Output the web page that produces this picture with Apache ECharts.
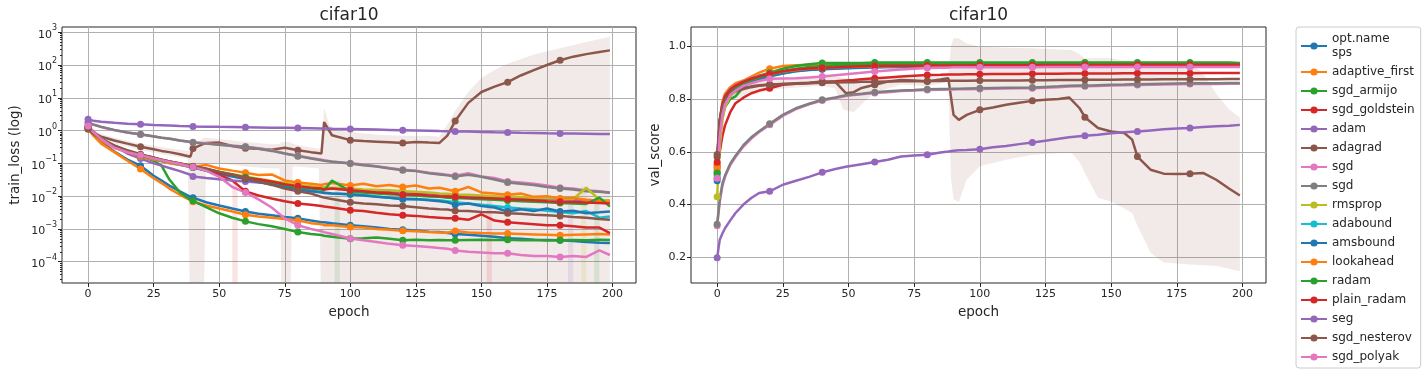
<!DOCTYPE html>
<html>
<head>
<meta charset="utf-8">
<script src="https://cdn.jsdelivr.net/npm/echarts@6/dist/echarts.min.js"></script>
<style>html,body{margin:0;padding:0;background:#fff}#chart{width:1428px;height:375px}</style>
</head>
<body>
<div id="chart"></div>
<script>
// ---------- categories / ticks ----------
const optNames = ['opt.name\nsps','adaptive_first','sgd_armijo','sgd_goldstein','adam','adagrad','sgd','sgd\u200b','rmsprop','adabound','amsbound','lookahead','radam','plain_radam','seg','sgd_nesterov','sgd_polyak'];
const optColors = ['#1f77b4','#ff7f0e','#2ca02c','#d62728','#9467bd','#8c564b','#e377c2','#7f7f7f','#bcbd22','#17becf','#1f77b4','#ff7f0e','#2ca02c','#d62728','#9467bd','#8c564b','#e377c2'];
const xTicks = [0,25,50,75,100,125,150,175,200];
const logTicks = [1e-4,1e-3,1e-2,1e-1,1,10,100,1000];
const valTicks = [0.2,0.4,0.6,0.8,1.0];

// ---------- train_loss (left panel) ----------
const leftEpochs = [0,2,5,10,15,20,25,28,31,35,39,40,45,50,55,60,65,70,75,80,85,89,90,93,100,105,110,115,120,125,130,134,137,140,145,150,155,160,165,170,175,180,185,190,195,199];
const trainSps = [1.2,0.8,0.45,0.23,0.13,0.085,0.042,0.03,0.021,0.014,0.0095,0.009,0.0065,0.0052,0.0042,0.0034,0.0029,0.0026,0.0023,0.0021,0.0018,0.0016,0.0016,0.0015,0.0013,0.0012,0.0011,0.001,0.00095,0.0009,0.00082,0.0008,0.00075,0.0007,0.00066,0.00062,0.00058,0.00052,0.0005,0.00047,0.00046,0.00045,0.00043,0.0004,0.00038,0.00037];
const trainAdaptiveFirst = [1.15,0.7,0.4,0.22,0.12,0.067,0.035,0.025,0.017,0.011,0.0075,0.0068,0.0052,0.0042,0.0034,0.0027,0.0024,0.0022,0.002,0.0018,0.0015,0.0014,0.0013,0.0013,0.00115,0.0011,0.001,0.00095,0.00088,0.00085,0.0008,0.00078,0.00076,0.00087,0.00078,0.00075,0.00073,0.00072,0.0007,0.00068,0.00066,0.00064,0.00066,0.00068,0.0007,0.00068];
const trainSgdArmijo = [1.25,0.88,0.55,0.34,0.24,0.17,0.12,0.085,0.032,0.013,0.0078,0.0072,0.0046,0.003,0.0022,0.0017,0.0014,0.0012,0.001,0.0008,0.0007,0.00065,0.00062,0.00058,0.0005,0.00052,0.00055,0.0005,0.00045,0.00047,0.00045,0.00046,0.00045,0.00045,0.00046,0.00047,0.00046,0.00047,0.00045,0.00046,0.00044,0.00045,0.00046,0.00045,0.00047,0.00046];
const trainSgdGoldstein = [1.25,0.88,0.55,0.34,0.24,0.175,0.145,0.125,0.11,0.095,0.08,0.078,0.06,0.045,0.03,0.014,0.0105,0.0085,0.007,0.006,0.0055,0.005,0.0048,0.0045,0.0037,0.0035,0.0031,0.0028,0.0026,0.0025,0.0023,0.0022,0.0021,0.0021,0.0019,0.0028,0.0018,0.0016,0.0015,0.0014,0.0013,0.0013,0.0012,0.0011,0.0011,0.00075];
const trainAdam = [1.4,0.95,0.58,0.33,0.2,0.14,0.1,0.085,0.072,0.058,0.045,0.04,0.036,0.033,0.03,0.028,0.026,0.024,0.022,0.02,0.019,0.018,0.018,0.017,0.016,0.015,0.0145,0.014,0.013,0.0125,0.012,0.0115,0.011,0.0105,0.01,0.0098,0.0095,0.009,0.0088,0.0085,0.0082,0.008,0.0078,0.0076,0.0074,0.0072];
const trainAdagrad = [1.1,0.85,0.65,0.5,0.4,0.32,0.27,0.24,0.22,0.19,0.16,0.285,0.42,0.43,0.34,0.29,0.28,0.26,0.3,0.25,0.22,0.2,1.8,0.72,0.51,0.48,0.46,0.44,0.42,0.45,0.43,0.42,0.7,1.95,7,15,22,30,48,70,100,140,180,215,250,280];
const trainSgd = [1.7,1.5,1.28,1.03,0.87,0.76,0.67,0.61,0.57,0.5,0.46,0.44,0.41,0.37,0.35,0.32,0.29,0.25,0.2,0.17,0.145,0.13,0.125,0.115,0.1,0.092,0.082,0.072,0.064,0.06,0.052,0.048,0.045,0.042,0.05,0.04,0.036,0.028,0.026,0.024,0.021,0.018,0.017,0.015,0.014,0.013];
const trainSgdGray = [1.75,1.55,1.3,1.05,0.88,0.77,0.66,0.6,0.56,0.5,0.45,0.435,0.4,0.37,0.34,0.32,0.28,0.24,0.2,0.166,0.14,0.125,0.12,0.112,0.099,0.088,0.08,0.07,0.062,0.058,0.05,0.046,0.043,0.04,0.045,0.039,0.032,0.026,0.024,0.022,0.019,0.017,0.016,0.014,0.0135,0.0126];
const trainRmsprop = [1.3,0.9,0.56,0.34,0.24,0.18,0.15,0.13,0.115,0.1,0.086,0.082,0.068,0.056,0.047,0.04,0.034,0.029,0.025,0.022,0.02,0.019,0.018,0.018,0.017,0.016,0.0155,0.015,0.014,0.0135,0.013,0.012,0.0118,0.0112,0.011,0.0105,0.01,0.0098,0.0094,0.009,0.0088,0.0085,0.0082,0.018,0.0078,0.0072];
const trainAdabound = [1.2,0.85,0.55,0.34,0.24,0.17,0.14,0.12,0.11,0.095,0.08,0.078,0.062,0.05,0.042,0.035,0.028,0.024,0.02,0.017,0.015,0.0135,0.013,0.012,0.0115,0.011,0.0098,0.009,0.0085,0.008,0.0078,0.0075,0.007,0.0065,0.006,0.0055,0.005,0.0045,0.0042,0.004,0.0036,0.0033,0.003,0.0035,0.0022,0.0024];
const trainAmsbound = [1.2,0.85,0.54,0.33,0.23,0.165,0.135,0.12,0.105,0.09,0.078,0.075,0.06,0.048,0.04,0.033,0.027,0.023,0.019,0.016,0.014,0.013,0.0125,0.012,0.0115,0.0105,0.0095,0.009,0.008,0.0082,0.0075,0.007,0.0065,0.0055,0.006,0.005,0.0045,0.0034,0.004,0.0035,0.0042,0.0034,0.0036,0.003,0.0032,0.0034];
const trainLookahead = [1.2,0.8,0.5,0.3,0.22,0.16,0.13,0.115,0.1,0.09,0.08,0.078,0.09,0.07,0.06,0.052,0.044,0.046,0.03,0.026,0.024,0.022,0.023,0.025,0.021,0.024,0.02,0.022,0.019,0.021,0.017,0.018,0.016,0.014,0.019,0.013,0.012,0.011,0.012,0.0095,0.01,0.0085,0.009,0.0078,0.0072,0.0067];
const trainRadam = [1.25,0.88,0.55,0.34,0.24,0.17,0.14,0.12,0.11,0.095,0.085,0.08,0.068,0.055,0.046,0.038,0.032,0.027,0.022,0.019,0.017,0.016,0.015,0.03,0.014,0.013,0.012,0.0115,0.011,0.0105,0.0098,0.0095,0.009,0.0088,0.0085,0.008,0.0077,0.0074,0.007,0.0068,0.0065,0.0062,0.006,0.0058,0.009,0.0048];
const trainPlainRadam = [1.3,0.9,0.55,0.34,0.24,0.18,0.15,0.13,0.115,0.1,0.085,0.08,0.065,0.05,0.045,0.035,0.032,0.028,0.023,0.02,0.018,0.017,0.016,0.017,0.015,0.014,0.013,0.0125,0.011,0.0115,0.0105,0.01,0.0098,0.0095,0.009,0.0088,0.0085,0.008,0.0078,0.0075,0.007,0.0068,0.0066,0.0064,0.0062,0.006];
const trainSeg = [2.2,2.0,1.85,1.72,1.62,1.55,1.48,1.45,1.42,1.38,1.35,1.34,1.32,1.3,1.29,1.27,1.25,1.23,1.21,1.19,1.17,1.15,1.15,1.13,1.11,1.09,1.07,1.05,1.03,1.01,0.99,0.97,0.96,0.94,0.93,0.91,0.89,0.88,0.86,0.85,0.83,0.82,0.81,0.8,0.79,0.78];
const trainSgdNesterov = [1.15,0.8,0.55,0.35,0.25,0.19,0.15,0.13,0.115,0.1,0.085,0.08,0.07,0.055,0.045,0.035,0.028,0.022,0.017,0.014,0.012,0.0095,0.009,0.0082,0.0065,0.006,0.0057,0.0052,0.005,0.0046,0.0042,0.004,0.0039,0.0036,0.0035,0.0033,0.0032,0.003,0.0029,0.0027,0.0026,0.0025,0.0023,0.0022,0.002,0.0019];
const trainSgdPolyak = [1.37,0.9,0.55,0.3,0.22,0.178,0.14,0.125,0.11,0.095,0.08,0.078,0.06,0.039,0.019,0.013,0.008,0.0045,0.0021,0.0013,0.001,0.00085,0.0008,0.0007,0.00051,0.00045,0.0004,0.00035,0.00032,0.0003,0.00028,0.00026,0.00025,0.00022,0.0002,0.00019,0.00018,0.00018,0.00016,0.00015,0.00015,0.00014,0.00015,0.00014,0.00022,0.00016];
// adagrad spread band (train)
const bandTrainEpochs = [0,5,10,20,30,38,39,44,45,50,60,70,73,74,77,78,80,88,89,90,92,95,100,110,120,130,134,137,140,145,150,155,160,170,180,190,199];
const bandTrainUpper = [1.3,0.8,0.6,0.4,0.3,0.24,0.25,0.6,0.6,0.55,0.45,0.38,0.4,0.45,0.45,0.4,0.36,0.28,0.3,4.9,1.5,1.0,0.9,0.75,0.7,0.7,0.65,1.5,4,15,40,70,110,210,325,500,730];
const bandTrainLower = [0.9,0.5,0.4,0.25,0.18,0.14,1e-6,1e-6,0.1,0.1,0.08,0.07,0.07,1e-6,1e-6,0.08,0.08,0.07,1e-6,1e-6,1e-6,1e-6,1e-6,1e-6,1e-6,1e-6,1e-6,1e-6,1e-6,1e-6,1e-6,1e-6,1e-6,1e-6,1e-6,1e-6,1e-6];
// faint single-epoch spread spikes (train)
const spikeStart = [55,94,152,183,188,193];
const spikeEnd = [57,96,154,185,190,195];
const spikeTop = [0.03,0.03,0.008,0.008,0.02,0.009];
const spikeOpt = [3,12,13,4,8,12];

// ---------- val_score (right panel) ----------
const rightEpochs = [0,1,2,3,5,7,10,13,16,20,25,30,35,40,45,49,52,55,60,65,70,75,80,85,88,90,92,95,100,105,110,115,120,125,130,134,138,140,145,150,155,158,160,165,170,175,180,185,190,195,199];
const valSps = [0.49,0.68,0.76,0.80,0.83,0.845,0.86,0.875,0.886,0.895,0.905,0.912,0.917,0.92,0.921,0.922,0.923,0.923,0.924,0.924,0.925,0.925,0.925,0.926,0.926,0.926,0.926,0.926,0.927,0.927,0.927,0.927,0.927,0.927,0.928,0.928,0.928,0.928,0.928,0.928,0.928,0.928,0.928,0.928,0.929,0.928,0.928,0.929,0.928,0.928,0.928];
const valAdaptiveFirst = [0.53,0.72,0.79,0.82,0.845,0.86,0.87,0.885,0.9,0.915,0.925,0.928,0.93,0.931,0.931,0.932,0.932,0.932,0.933,0.933,0.933,0.933,0.934,0.934,0.934,0.934,0.934,0.934,0.934,0.934,0.934,0.934,0.935,0.935,0.935,0.935,0.935,0.935,0.935,0.935,0.935,0.935,0.935,0.935,0.935,0.935,0.935,0.935,0.935,0.935,0.935];
const valSgdArmijo = [0.52,0.66,0.73,0.77,0.8,0.81,0.845,0.87,0.888,0.9,0.915,0.925,0.932,0.937,0.937,0.937,0.937,0.937,0.938,0.938,0.938,0.938,0.938,0.938,0.938,0.938,0.938,0.938,0.938,0.938,0.938,0.938,0.938,0.938,0.938,0.938,0.938,0.938,0.938,0.938,0.938,0.938,0.938,0.938,0.938,0.938,0.938,0.938,0.938,0.938,0.937];
const valSgdGoldstein = [0.55,0.6,0.66,0.7,0.75,0.784,0.805,0.822,0.832,0.841,0.854,0.858,0.861,0.864,0.867,0.87,0.872,0.875,0.879,0.882,0.885,0.888,0.891,0.892,0.893,0.893,0.893,0.894,0.894,0.895,0.895,0.895,0.896,0.896,0.896,0.897,0.897,0.897,0.897,0.897,0.898,0.898,0.898,0.898,0.898,0.898,0.898,0.899,0.899,0.899,0.899];
const valAdam = [0.54,0.72,0.78,0.81,0.838,0.852,0.866,0.878,0.887,0.895,0.904,0.91,0.914,0.916,0.918,0.919,0.92,0.92,0.921,0.921,0.921,0.922,0.922,0.922,0.922,0.922,0.922,0.922,0.923,0.923,0.923,0.923,0.923,0.923,0.923,0.923,0.923,0.924,0.924,0.924,0.924,0.924,0.924,0.924,0.924,0.924,0.924,0.924,0.924,0.924,0.924];
const valAdagrad = [0.58,0.7,0.76,0.79,0.815,0.828,0.838,0.845,0.85,0.854,0.857,0.86,0.862,0.866,0.865,0.822,0.826,0.842,0.854,0.866,0.872,0.87,0.866,0.874,0.879,0.74,0.721,0.74,0.759,0.768,0.778,0.786,0.793,0.797,0.8,0.806,0.765,0.731,0.69,0.677,0.671,0.646,0.582,0.532,0.517,0.516,0.517,0.52,0.494,0.46,0.434];
const valSgd = [0.32,0.41,0.47,0.505,0.55,0.58,0.62,0.65,0.675,0.702,0.736,0.762,0.78,0.794,0.804,0.811,0.815,0.818,0.823,0.826,0.83,0.832,0.834,0.835,0.836,0.836,0.837,0.837,0.838,0.839,0.84,0.841,0.841,0.843,0.845,0.847,0.848,0.848,0.849,0.851,0.852,0.853,0.853,0.854,0.855,0.856,0.857,0.857,0.857,0.858,0.858];
const valSgdGray = [0.325,0.42,0.48,0.51,0.555,0.585,0.625,0.655,0.678,0.706,0.74,0.765,0.782,0.797,0.806,0.814,0.817,0.82,0.826,0.829,0.832,0.834,0.837,0.838,0.838,0.839,0.839,0.84,0.841,0.842,0.843,0.843,0.844,0.846,0.848,0.85,0.851,0.85,0.852,0.854,0.855,0.856,0.856,0.857,0.858,0.859,0.86,0.86,0.86,0.861,0.861];
const valRmsprop = [0.43,0.62,0.72,0.77,0.81,0.83,0.85,0.866,0.878,0.89,0.9,0.908,0.913,0.917,0.919,0.92,0.921,0.922,0.923,0.923,0.924,0.924,0.924,0.925,0.925,0.925,0.925,0.925,0.925,0.926,0.926,0.926,0.926,0.926,0.926,0.926,0.926,0.927,0.927,0.927,0.927,0.927,0.927,0.927,0.927,0.927,0.927,0.927,0.927,0.927,0.927];
const valAdabound = [0.51,0.69,0.76,0.79,0.82,0.835,0.852,0.866,0.877,0.887,0.898,0.906,0.911,0.914,0.916,0.918,0.919,0.92,0.921,0.922,0.922,0.923,0.923,0.923,0.924,0.924,0.924,0.924,0.924,0.925,0.925,0.925,0.925,0.925,0.925,0.925,0.925,0.926,0.926,0.926,0.926,0.926,0.926,0.926,0.926,0.926,0.926,0.926,0.926,0.926,0.926];
const valAmsbound = [0.5,0.68,0.75,0.79,0.82,0.835,0.85,0.865,0.876,0.886,0.897,0.905,0.91,0.913,0.915,0.917,0.918,0.919,0.92,0.921,0.921,0.922,0.922,0.922,0.923,0.923,0.923,0.923,0.923,0.924,0.924,0.924,0.924,0.924,0.924,0.924,0.924,0.925,0.925,0.925,0.925,0.925,0.925,0.925,0.925,0.925,0.925,0.925,0.925,0.925,0.925];
const valLookahead = [0.54,0.7,0.77,0.805,0.83,0.848,0.862,0.874,0.884,0.893,0.903,0.91,0.915,0.918,0.92,0.921,0.922,0.923,0.924,0.924,0.925,0.925,0.925,0.926,0.926,0.926,0.926,0.927,0.927,0.927,0.928,0.928,0.928,0.928,0.929,0.929,0.929,0.929,0.929,0.929,0.93,0.93,0.93,0.93,0.93,0.93,0.93,0.93,0.93,0.93,0.93];
const valRadam = [0.52,0.7,0.77,0.8,0.83,0.845,0.86,0.872,0.882,0.892,0.905,0.915,0.921,0.925,0.928,0.93,0.931,0.932,0.933,0.933,0.933,0.934,0.934,0.934,0.934,0.934,0.934,0.934,0.934,0.935,0.935,0.935,0.935,0.935,0.935,0.935,0.935,0.935,0.935,0.935,0.935,0.935,0.935,0.935,0.935,0.935,0.935,0.935,0.935,0.935,0.935];
const valPlainRadam = [0.56,0.72,0.78,0.81,0.835,0.85,0.865,0.877,0.886,0.895,0.905,0.912,0.916,0.918,0.92,0.922,0.923,0.924,0.925,0.926,0.926,0.926,0.927,0.927,0.927,0.927,0.927,0.927,0.928,0.928,0.928,0.928,0.928,0.929,0.929,0.929,0.929,0.929,0.929,0.929,0.93,0.93,0.93,0.93,0.93,0.93,0.93,0.93,0.93,0.93,0.93];
const valSeg = [0.198,0.267,0.29,0.31,0.34,0.368,0.4,0.425,0.444,0.45,0.475,0.49,0.505,0.522,0.535,0.543,0.548,0.553,0.561,0.57,0.582,0.586,0.589,0.597,0.601,0.604,0.606,0.607,0.61,0.617,0.622,0.629,0.635,0.642,0.649,0.655,0.659,0.661,0.665,0.67,0.674,0.676,0.677,0.681,0.685,0.688,0.69,0.694,0.697,0.699,0.702];
const valSgdNesterov = [0.59,0.72,0.77,0.8,0.822,0.832,0.842,0.848,0.852,0.855,0.857,0.858,0.86,0.862,0.863,0.864,0.864,0.865,0.865,0.866,0.867,0.867,0.868,0.868,0.869,0.869,0.869,0.869,0.87,0.87,0.87,0.87,0.871,0.871,0.872,0.872,0.872,0.873,0.873,0.873,0.874,0.874,0.874,0.874,0.875,0.875,0.875,0.875,0.875,0.876,0.876];
const valSgdPolyak = [0.5,0.66,0.74,0.78,0.815,0.832,0.85,0.86,0.868,0.877,0.878,0.879,0.882,0.885,0.89,0.894,0.897,0.9,0.904,0.908,0.912,0.915,0.918,0.919,0.919,0.92,0.92,0.92,0.92,0.92,0.92,0.92,0.92,0.921,0.921,0.921,0.921,0.921,0.921,0.921,0.921,0.921,0.921,0.921,0.921,0.921,0.921,0.921,0.921,0.921,0.921];
// adagrad spread band (val)
const bandValEpochs = [0,1,2,3,5,7,10,15,20,30,40,45,48,52,56,60,70,80,88,89,90,92,95,100,110,120,130,135,138,140,145,150,155,158,160,165,170,180,185,190,195,199];
const bandValUpper = [0.6,0.72,0.78,0.81,0.835,0.85,0.86,0.868,0.872,0.876,0.882,0.885,0.88,0.875,0.878,0.88,0.888,0.884,0.892,1.0,1.03,1.03,1.01,0.998,0.994,0.992,0.988,0.986,0.97,0.955,0.955,0.955,0.945,0.942,0.942,0.94,0.938,0.935,0.9,0.82,0.76,0.73];
const bandValLower = [0.56,0.68,0.74,0.77,0.795,0.8,0.81,0.82,0.836,0.844,0.85,0.84,0.76,0.75,0.79,0.825,0.855,0.848,0.866,0.5,0.42,0.41,0.494,0.545,0.57,0.589,0.594,0.595,0.56,0.52,0.425,0.412,0.385,0.368,0.32,0.217,0.18,0.173,0.17,0.167,0.157,0.147];

const trainLoss = [trainSps,trainAdaptiveFirst,trainSgdArmijo,trainSgdGoldstein,trainAdam,trainAdagrad,trainSgd,trainSgdGray,trainRmsprop,trainAdabound,trainAmsbound,trainLookahead,trainRadam,trainPlainRadam,trainSeg,trainSgdNesterov,trainSgdPolyak];
const valScore = [valSps,valAdaptiveFirst,valSgdArmijo,valSgdGoldstein,valAdam,valAdagrad,valSgd,valSgdGray,valRmsprop,valAdabound,valAmsbound,valLookahead,valRadam,valPlainRadam,valSeg,valSgdNesterov,valSgdPolyak];

// sanity check
const bad = [];
trainLoss.forEach((a,i)=>{ if(a.length!==leftEpochs.length) bad.push('train'+i+':'+a.length); });
valScore.forEach((a,i)=>{ if(a.length!==rightEpochs.length) bad.push('val'+i+':'+a.length); });
if (bandTrainUpper.length!==bandTrainEpochs.length||bandTrainLower.length!==bandTrainEpochs.length) bad.push('bandTrain');
if (bandValUpper.length!==bandValEpochs.length||bandValLower.length!==bandValEpochs.length) bad.push('bandVal');
if (bad.length) throw new Error('length mismatch ' + bad.join(','));

// ---------- chart ----------
const FONT = 'DejaVu Sans';
const INK = '#262626';
const GRIDC = '#b0b0b0';
const L_MIN = 2.24e-5, L_MAX = 1445;
const minorTicks = [];
for (let e = -5; e <= 3; e++) for (let m = 2; m <= 9; m++) { const v = m * Math.pow(10, e); if (v > L_MIN && v < L_MAX) minorTicks.push(v); }

function hexA(hex, a) {
  const n = parseInt(hex.slice(1), 16);
  return 'rgba(' + (n >> 16) + ',' + ((n >> 8) & 255) + ',' + (n & 255) + ',' + a + ')';
}
function xAxisCfg(gi) {
  return {
    gridIndex: gi, type: 'value', min: -9.95, max: 208.95,
    axisLine: { show: false, onZero: false },
    axisTick: { show: true, inside: false, length: 4, lineStyle: { color: INK }, customValues: xTicks },
    axisLabel: { customValues: xTicks, color: INK, fontSize: 11, fontFamily: FONT, margin: 6 },
    splitLine: { show: true, lineStyle: { color: GRIDC, width: 1 } },
    name: 'epoch', nameLocation: 'middle', nameGap: 22,
    nameTextStyle: { color: INK, fontSize: 13.5, fontFamily: FONT }
  };
}
function lineSeries(i, xi, yi, epochs, vals) {
  return {
    type: 'line', name: optNames[i], xAxisIndex: xi, yAxisIndex: yi,
    data: epochs.map((e, k) => [e, vals[k]]),
    symbol: 'circle',
    symbolSize: v => (v[0] % 20 === 0 && v[0] < 200) ? 7 : 0,
    showSymbol: true, showAllSymbol: true,
    lineStyle: { width: 2.5, color: optColors[i] },
    itemStyle: { color: optColors[i] },
    emphasis: { disabled: true }, silent: true, z: 3
  };
}
function bandSeries(xi, yi, ep, up, lo, color) {
  return {
    type: 'custom', xAxisIndex: xi, yAxisIndex: yi, silent: true, z: 1, clip: true,
    data: [[ep[1], up[1]]],
    renderItem: (params, api) => {
      const pts = [];
      for (let k = 0; k < ep.length; k++) pts.push(api.coord([ep[k], up[k]]));
      for (let k = ep.length - 1; k >= 0; k--) pts.push(api.coord([ep[k], lo[k]]));
      return { type: 'polygon', shape: { points: pts }, style: { fill: color, stroke: null, lineWidth: 0 } };
    }
  };
}
const spikeSeries = {
  type: 'custom', xAxisIndex: 0, yAxisIndex: 0, silent: true, z: 1, clip: true,
  data: spikeStart.map((s, k) => [s, spikeTop[k], spikeEnd[k], spikeOpt[k]]),
  renderItem: (params, api) => {
    const p1 = api.coord([api.value(0), api.value(1)]);
    const p2 = api.coord([api.value(2), 1e-6]);
    return { type: 'rect', shape: { x: p1[0], y: p1[1], width: p2[0] - p1[0], height: p2[1] - p1[1] },
      style: { fill: hexA(optColors[api.value(3)], 0.13), stroke: null, lineWidth: 0 } };
  }
};

const series = [
  bandSeries(0, 0, bandTrainEpochs, bandTrainUpper, bandTrainLower, hexA('#8c564b', 0.12)),
  spikeSeries,
  bandSeries(1, 1, bandValEpochs, bandValUpper, bandValLower, hexA('#8c564b', 0.12))
];
optNames.forEach((n, i) => series.push(lineSeries(i, 0, 0, leftEpochs, trainLoss[i])));
optNames.forEach((n, i) => series.push(lineSeries(i, 1, 1, rightEpochs, valScore[i])));

const option = {
  animation: false,
  backgroundColor: '#ffffff',
  textStyle: { fontFamily: FONT },
  graphic: [
    { type: 'text', x: 349, y: 16, style: { text: 'cifar10', fontSize: 17, fontFamily: FONT, fill: INK, align: 'center', verticalAlign: 'middle' } },
    { type: 'text', x: 978.5, y: 16, style: { text: 'cifar10', fontSize: 17, fontFamily: FONT, fill: INK, align: 'center', verticalAlign: 'middle' } }
  ],
  grid: [
    { left: 62, top: 27, width: 574, height: 256, show: true, borderColor: INK, borderWidth: 1, backgroundColor: 'transparent', containLabel: false },
    { left: 691, top: 27, width: 575, height: 256, show: true, borderColor: INK, borderWidth: 1, backgroundColor: 'transparent', containLabel: false }
  ],
  xAxis: [xAxisCfg(0), xAxisCfg(1)],
  yAxis: [
    {
      gridIndex: 0, type: 'log', logBase: 10, min: L_MIN, max: L_MAX, position: 'left',
      axisLine: { show: false, onZero: false },
      axisTick: { show: true, length: 4, lineStyle: { color: INK }, customValues: logTicks },
      axisLabel: {
        customValues: logTicks, margin: 5,
        formatter: v => { const e = Math.round(Math.log10(v)); return '{b|10}{s|' + (e < 0 ? '\u2212' + (-e) : e) + '}'; },
        rich: {
          b: { fontSize: 11, fontFamily: FONT, color: INK, lineHeight: 16, verticalAlign: 'bottom' },
          s: { fontSize: 8, fontFamily: FONT, color: INK, lineHeight: 8, verticalAlign: 'top' }
        }
      },
      splitLine: { show: true, lineStyle: { color: GRIDC, width: 1 } },
      name: 'train_loss (log)', nameLocation: 'middle', nameGap: 40, nameRotate: 90,
      nameTextStyle: { color: INK, fontSize: 13.5, fontFamily: FONT }
    },
    {
      gridIndex: 1, type: 'value', min: 0.1026, max: 1.073, position: 'left',
      axisLine: { show: false, onZero: false },
      axisTick: { show: true, length: 4, lineStyle: { color: INK }, customValues: valTicks },
      axisLabel: { customValues: valTicks, margin: 5, color: INK, fontSize: 11, fontFamily: FONT, formatter: v => v.toFixed(1) },
      splitLine: { show: true, lineStyle: { color: GRIDC, width: 1 } },
      name: 'val_score', nameLocation: 'middle', nameGap: 29, nameRotate: 90,
      nameTextStyle: { color: INK, fontSize: 13.5, fontFamily: FONT }
    },
    {
      gridIndex: 0, type: 'log', logBase: 10, min: L_MIN, max: L_MAX, position: 'left', offset: 0,
      axisLine: { show: false, onZero: false },
      axisTick: { show: true, length: 2, lineStyle: { color: INK }, customValues: minorTicks },
      axisLabel: { show: false },
      splitLine: { show: false }
    }
  ],
  legend: {
    orient: 'vertical', left: 1296, top: 27, align: 'left',
    data: optNames, selectedMode: false,
    itemWidth: 26, itemHeight: 9, itemGap: 5,
    padding: [5, 6, 4, 4],
    borderColor: '#cccccc', borderWidth: 1, borderRadius: 3, backgroundColor: '#ffffff',
    textStyle: { fontSize: 12, fontFamily: FONT, color: INK, lineHeight: 14 }
  },
  series: series
};
const chart = echarts.init(document.getElementById('chart'), null, { renderer: 'canvas', width: 1428, height: 375 });
chart.setOption(option);
</script>
</body>
</html>
